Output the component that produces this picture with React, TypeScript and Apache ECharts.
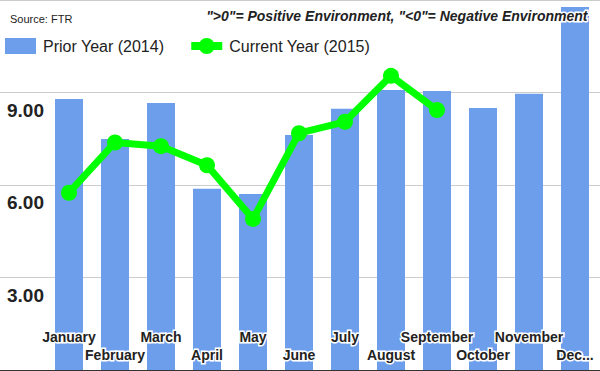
import React, { useEffect, useRef } from 'react';
import * as echarts from 'echarts';

const months = ['January', 'February', 'March', 'April', 'May', 'June', 'July', 'August', 'September', 'October', 'November', 'December'];
const prior2014 = [8.79, 7.49, 8.66, 5.88, 5.71, 7.62, 8.47, 9.08, 9.05, 8.5, 8.96, 11.77];
const current2015 = [5.75, 7.38, 7.26, 6.64, 4.9, 7.68, 8.05, 9.54, 8.43, null, null, null];
const shownTicks = [3, 6, 9];

const FONT = '"Liberation Sans", Arial, sans-serif';
const LINE_ICON = 'path://M0,4H31V12H0Z M7.5,8A8,8 0 1,1 23.5,8A8,8 0 1,1 7.5,8Z';

export default function App() {
  const ref = useRef<HTMLDivElement>(null);
  useEffect(() => {
    if (!ref.current) return;
    const chart = echarts.init(ref.current, null, { renderer: 'svg' });
    chart.setOption({
      animation: false,
      backgroundColor: '#fff',
      textStyle: { fontFamily: FONT },
      grid: [
        { left: 0, right: 0, top: 0, bottom: 1 },
        { left: 46, right: 2, top: 0, bottom: 1 },
      ],
      xAxis: [
        {
          gridIndex: 0, type: 'value', min: 0, max: 1,
          axisLine: { show: true, onZero: false, lineStyle: { color: '#333', width: 1 } },
          axisTick: { show: false }, axisLabel: { show: false }, splitLine: { show: false },
        },
        {
          gridIndex: 1, type: 'category', data: months,
          axisLine: { show: false }, axisTick: { show: false },
          z: 10,
          axisLabel: {
            inside: true, interval: 0, margin: 6,
            fontFamily: FONT, fontSize: 14, fontWeight: 'bold', color: '#222',
            lineHeight: 18, textBorderColor: '#fff', textBorderWidth: 3,
            formatter: (value: string, index: number) => {
              const t = index === 11 ? 'Dec...' : value;
              return index % 2 === 0 ? t + '\n ' : t;
            },
          },
        },
      ],
      yAxis: [
        {
          gridIndex: 0, type: 'value', min: 0, max: 12, interval: 3,
          axisLine: { show: false }, axisTick: { show: false },
          splitLine: { show: true, lineStyle: { color: '#cccccc', width: 1 } },
          axisLabel: {
            inside: true, margin: 7, align: 'left', verticalAlign: 'top', padding: [8, 0, 0, 0],
            fontFamily: FONT, fontSize: 19, fontWeight: 'bold', color: '#222',
            formatter: (v: number) => (shownTicks.includes(v) ? v.toFixed(2) : ''),
          },
        },
        { gridIndex: 1, type: 'value', min: 0, max: 12, show: false, splitLine: { show: false } },
      ],
      legend: {
        left: 0, top: 33, itemWidth: 31, itemHeight: 16, itemGap: 27,
        textStyle: { fontFamily: FONT, fontSize: 16, color: '#222', padding: [0, 0, 0, 2] },
        data: [
          { name: 'Prior Year (2014)', icon: 'rect' },
          { name: 'Current Year (2015)', icon: LINE_ICON },
        ],
      },
      graphic: [
        {
          type: 'text', left: 10, top: 13,
          style: { text: 'Source: FTR', font: `11px ${FONT}`, fill: '#222' },
        },
        {
          type: 'text', right: 11, top: 7, z: 100,
          style: {
            text: '">0"= Positive Environment, "<0"= Negative Environment',
            font: `italic bold 14px ${FONT}`, fill: '#222', stroke: '#fff', lineWidth: 3,
          },
        },
      ],
      series: [
        {
          name: 'Prior Year (2014)', type: 'bar', xAxisIndex: 1, yAxisIndex: 1,
          data: prior2014, barWidth: 28, itemStyle: { color: '#6d9eeb' },
        },
        {
          name: 'Current Year (2015)', type: 'line', xAxisIndex: 1, yAxisIndex: 1,
          data: current2015, symbol: 'circle', symbolSize: 16,
          lineStyle: { color: '#00ff00', width: 7 },
          itemStyle: { color: '#00ff00' },
        },
      ],
    });
    return () => chart.dispose();
  }, []);
  return <div ref={ref} style={{ width: 600, height: 371, position: 'absolute', left: 0, top: 0 }} />;
}
